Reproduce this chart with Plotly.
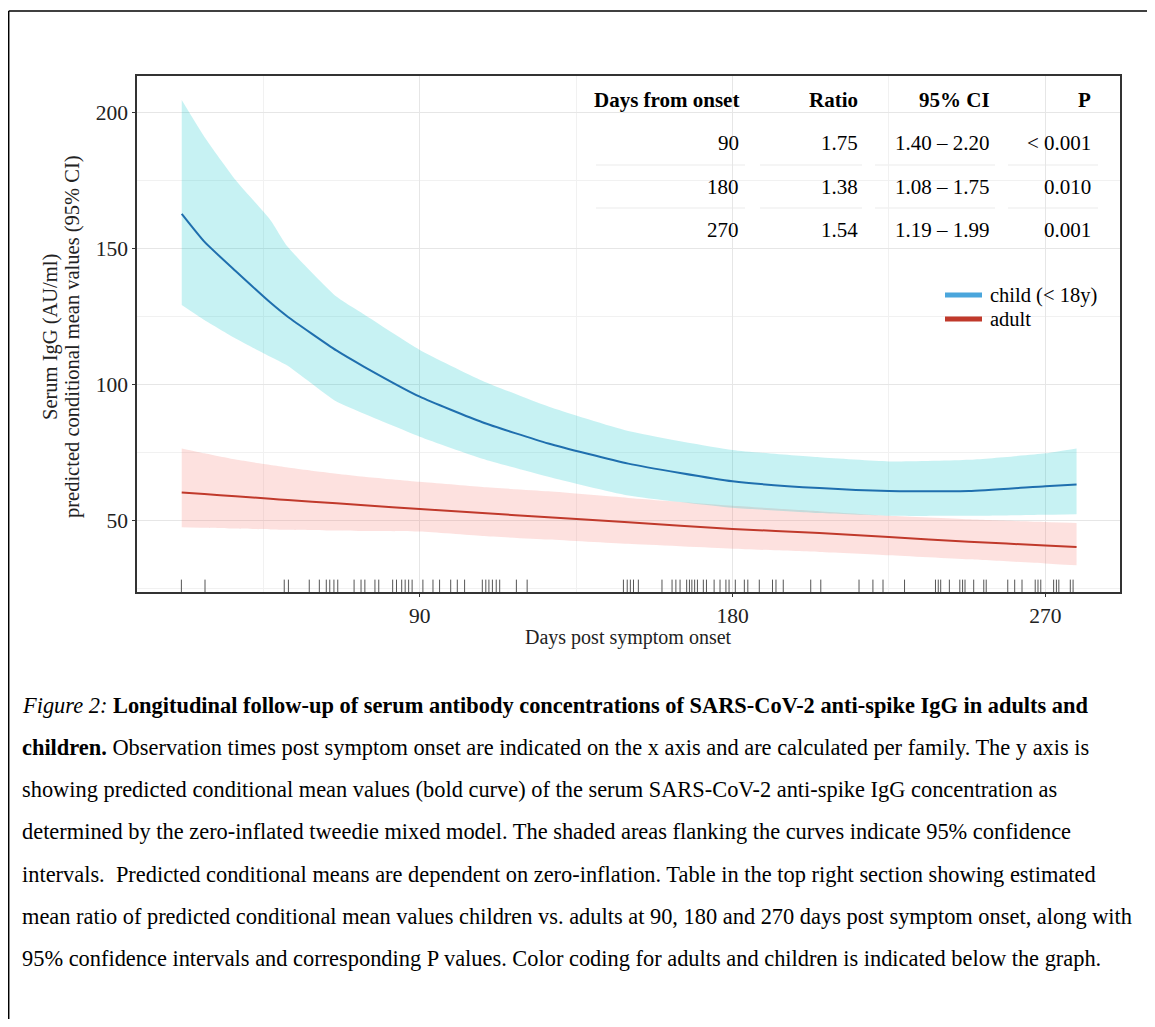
import plotly.graph_objects as go

# ---------------- data ----------------
days = [21.5, 28, 37, 47, 52, 66, 74, 90, 108, 127, 150, 180, 205, 225, 248, 270, 279]
child_mean = [162.8, 152.6, 141.8, 130.2, 125.0, 112.6, 106.6, 95.6, 86.2, 78.4, 71.0, 64.5, 62.0, 60.9, 60.9, 62.7, 63.3]
child_upper = [204.7, 191.2, 175.3, 160.6, 150.7, 132.4, 125.8, 112.8, 101.5, 92.0, 83.0, 76.0, 73.3, 71.8, 72.4, 74.8, 76.6]
child_lower = [129.3, 123.8, 117.0, 110.3, 107.0, 93.8, 89.3, 80.9, 72.8, 66.2, 59.3, 54.8, 52.8, 51.8, 51.8, 52.2, 52.4]
adult_mean = [60.4, 59.8, 59.0, 58.1, 57.6, 56.4, 55.7, 54.3, 52.8, 51.3, 49.4, 47.0, 45.5, 44.0, 42.3, 40.9, 40.3]
adult_upper = [76.6, 74.8, 72.5, 70.5, 69.6, 67.3, 66.2, 64.3, 62.4, 60.8, 58.4, 55.5, 53.5, 51.8, 50.5, 49.5, 49.2]
adult_lower = [47.6, 47.4, 47.1, 46.8, 46.7, 46.4, 46.2, 46.0, 44.4, 43.1, 41.5, 39.7, 38.5, 37.3, 35.8, 34.3, 33.6]

rug_days = [21.4, 28.2, 51.0, 52.2, 58.2, 61.1, 63.1, 64.1, 65.3, 66.4, 71.1, 73.1, 74.2, 77.1, 78.2,
            82.2, 83.3, 84.8, 85.8, 86.8, 87.8, 90.9, 93.8, 95.7, 98.9, 100.8, 102.9,
            108.0, 109.0, 109.9, 110.9, 112.0, 113.0, 117.8, 120.9,
            148.6, 149.7, 150.6, 151.5, 152.9, 159.7, 162.6, 163.7, 164.9, 166.8, 167.6, 168.3,
            169.1, 169.9, 171.6, 172.5, 174.7, 176.4, 178.1, 179.0, 180.8, 183.4, 184.4, 187.7,
            191.5, 192.5, 194.6, 202.5, 205.4, 216.4, 220.4, 223.3, 229.5, 238.4, 239.2, 239.9,
            242.4, 245.4, 246.2, 246.9, 249.4, 252.3, 253.0, 259.2, 261.2, 263.3, 267.1, 267.9,
            268.7, 272.4, 273.2, 273.9, 277.2, 278.0]

x_ticks = [90, 180, 270]
x_minor = [45, 135, 225]
y_ticks = [50, 100, 150, 200]
y_minor = [25, 75, 125, 175]

table_header = ["Days from onset", "Ratio", "95% CI", "P"]
table_days = ["90", "180", "270"]
table_ratio = ["1.75", "1.38", "1.54"]
table_ci = ["1.40 \u2013 2.20", "1.08 \u2013 1.75", "1.19 \u2013 1.99"]
table_p = ["< 0.001", "0.010", "0.001"]

legend_labels = ["child (< 18y)", "adult"]
legend_colors = ["#4aa6dc", "#c0392b"]

x_title = "Days post symptom onset"
y_title_lines = ["Serum IgG (AU/ml)", "predicted conditional mean values (95% CI)"]

caption_lines = [
    "<i>Figure 2:</i> <b>Longitudinal follow-up of serum antibody concentrations of SARS-CoV-2 anti-spike IgG in adults and</b>",
    "<b>children.</b> Observation times post symptom onset are indicated on the x axis and are calculated per family. The y axis is",
    "showing predicted conditional mean values (bold curve) of the serum SARS-CoV-2 anti-spike IgG concentration as",
    "determined by the zero-inflated tweedie mixed model. The shaded areas flanking the curves indicate 95% confidence",
    "intervals.  Predicted conditional means are dependent on zero-inflation. Table in the top right section showing estimated",
    "mean ratio of predicted conditional mean values children vs. adults at 90, 180 and 270 days post symptom onset, along with",
    "95% confidence intervals and corresponding P values. Color coding for adults and children is indicated below the graph.",
]

# ---------------- layout geometry (screen pixel coordinates) ----------------
OFF = 8                      # page body margin
W, H = 1155 - 2 * OFF, 1027 - 2 * OFF
PL, PR, PT, PB = 137, 1120, 76, 592
FONT = "Liberation Serif, Times New Roman, serif"


def px2x(px):
    return (px - PL) / (PR - PL)


def py2y(py):
    return (PB - py) / (PB - PT)


fig = go.Figure()

SPL = dict(shape="spline", smoothing=0.5)

# ribbons (lower bound, then upper bound filled down to it)
fig.add_trace(go.Scatter(x=days, y=adult_lower, mode="lines", line=dict(width=0, **SPL),
                         showlegend=False, hoverinfo="skip"))
fig.add_trace(go.Scatter(x=days, y=adult_upper, mode="lines", line=dict(width=0, **SPL),
                         fill="tonexty", fillcolor="rgba(248,118,109,0.22)",
                         showlegend=False, hoverinfo="skip"))
fig.add_trace(go.Scatter(x=days, y=child_lower, mode="lines", line=dict(width=0, **SPL),
                         showlegend=False, hoverinfo="skip"))
fig.add_trace(go.Scatter(x=days, y=child_upper, mode="lines", line=dict(width=0, **SPL),
                         fill="tonexty", fillcolor="rgba(0,196,200,0.22)",
                         showlegend=False, hoverinfo="skip"))

# mean curves
fig.add_trace(go.Scatter(x=days, y=adult_mean, mode="lines", name=legend_labels[1],
                         line=dict(color="#c0392b", width=2, **SPL), showlegend=False))
fig.add_trace(go.Scatter(x=days, y=child_mean, mode="lines", name=legend_labels[0],
                         line=dict(color="#1f6fae", width=2, **SPL), showlegend=False))

shapes = []
# rug
for d in rug_days:
    shapes.append(dict(type="line", xref="x", yref="y domain", x0=d, x1=d, y0=0, y1=0.024,
                       line=dict(color="#555555", width=1)))
# table row separators
for sep in [165, 208]:
    for a, b in [(596, 745), (760, 862), (875, 995), (1008, 1098)]:
        shapes.append(dict(type="line", xref="paper", yref="paper",
                           x0=px2x(a), x1=px2x(b), y0=py2y(sep), y1=py2y(sep),
                           line=dict(color="#ebebeb", width=1), layer="below"))
# legend keys (drawn manually)
leg_y = [295, 319]
for i, col in enumerate(legend_colors):
    shapes.append(dict(type="line", xref="paper", yref="paper",
                       x0=px2x(945), x1=px2x(982), y0=py2y(leg_y[i]), y1=py2y(leg_y[i]),
                       line=dict(color=col, width=5)))
# outer page frame (left + top)
shapes.append(dict(type="line", xref="paper", yref="paper",
                   x0=px2x(8.7), x1=px2x(8.7), y0=py2y(11), y1=py2y(1027),
                   line=dict(color="black", width=1.5)))
shapes.append(dict(type="line", xref="paper", yref="paper",
                   x0=px2x(8.7), x1=px2x(1160), y0=py2y(11), y1=py2y(11),
                   line=dict(color="black", width=1.5)))

annotations = []
# y-axis title (two lines)
for i, (t, xc) in enumerate(zip(y_title_lines, [50, 72])):
    annotations.append(dict(text=t, xref="paper", yref="paper",
                            x=px2x(xc), y=py2y(337), textangle=-90, showarrow=False,
                            xanchor="center", yanchor="middle",
                            font=dict(family=FONT, size=20.5, color="#222")))
# x-axis title
annotations.append(dict(text=x_title, xref="paper", yref="paper", x=px2x(628), y=py2y(637),
                        xanchor="center", yanchor="middle", showarrow=False,
                        font=dict(family=FONT, size=20, color="#222")))

# table
col_right = [741, 860, 992, 1093]
row_y = [100, 143, 187, 230]
for c, htxt in enumerate(table_header):
    annotations.append(dict(text="<b>%s</b>" % htxt, xref="paper", yref="paper",
                            x=px2x(col_right[c]), y=py2y(row_y[0]), xanchor="right", yanchor="middle",
                            showarrow=False, font=dict(family=FONT, size=21, color="black")))
cols = [table_days, table_ratio, table_ci, table_p]
for c, col in enumerate(cols):
    for r, val in enumerate(col):
        annotations.append(dict(text=val, xref="paper", yref="paper",
                                x=px2x(col_right[c]), y=py2y(row_y[r + 1]), xanchor="right",
                                yanchor="middle", showarrow=False,
                                font=dict(family=FONT, size=21, color="black")))

# legend labels
for i, lab in enumerate(legend_labels):
    annotations.append(dict(text=lab, xref="paper", yref="paper", x=px2x(988), y=py2y(leg_y[i]),
                            xanchor="left", yanchor="middle", showarrow=False,
                            font=dict(family=FONT, size=20.5, color="black")))

# caption
cap_y0, cap_dy = 705, 42.3
for i, line in enumerate(caption_lines):
    annotations.append(dict(text=line, xref="paper", yref="paper",
                            x=px2x(20), y=py2y(cap_y0 + i * cap_dy), xanchor="left", yanchor="middle",
                            showarrow=False, font=dict(family=FONT, size=22.4, color="black")))

axis_common = dict(showline=True, mirror=True, linecolor="#333333", linewidth=1.5,
                   ticks="outside", ticklen=3, tickcolor="#333333", tickwidth=1.2,
                   showgrid=True, gridcolor="#e6e6e6", gridwidth=1, zeroline=False,
                   tickfont=dict(family=FONT, size=21.5, color="#222"))

fig.update_layout(
    width=W, height=H,
    margin=dict(l=PL - OFF, r=(W + OFF) - PR, t=PT - OFF, b=(H + OFF) - PB, pad=0),
    paper_bgcolor="white", plot_bgcolor="white",
    font=dict(family=FONT, size=20, color="black"),
    showlegend=False,
    xaxis=dict(range=[8.63, 291.5], tickmode="array", tickvals=x_ticks,
               minor=dict(tickvals=x_minor, showgrid=True, gridcolor="#f1f1f1", ticks=""),
               **axis_common),
    yaxis=dict(range=[23.8, 213.5], tickmode="array", tickvals=y_ticks,
               minor=dict(tickvals=y_minor, showgrid=True, gridcolor="#f1f1f1", ticks=""),
               **axis_common),
    shapes=shapes,
    annotations=annotations,
)

fig.write_html("out.html")
